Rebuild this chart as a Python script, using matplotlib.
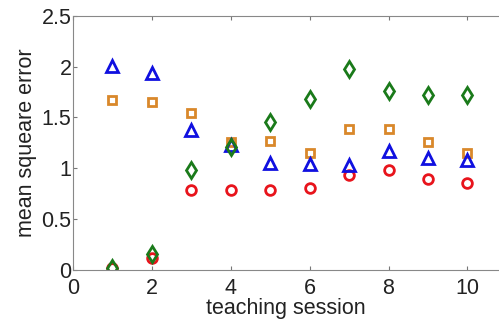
import numpy as np
import matplotlib.pyplot as plt

plt.rcParams['font.family'] = ['Liberation Sans', 'DejaVu Sans']

# data
sessions = [1, 2, 3, 4, 5, 6, 7, 8, 9, 10]
red_circ = [0.02, 0.12, 0.79, 0.79, 0.79, 0.81, 0.93, 0.98, 0.89, 0.86]
green_dia = [0.02, 0.16, 0.98, 1.21, 1.46, 1.68, 1.98, 1.76, 1.72, 1.72]
orange_sq = [1.67, 1.65, 1.54, 1.26, 1.27, 1.15, 1.39, 1.39, 1.26, 1.15]
blue_tri = [2.01, 1.94, 1.38, 1.23, 1.05, 1.04, 1.03, 1.17, 1.10, 1.08]

fig = plt.figure(figsize=(4.99, 3.24), dpi=100)
ax = fig.add_axes([0.146, 0.167, 0.854, 0.784])

mkw = dict(linestyle='none', markerfacecolor='none', markeredgewidth=2)
ax.plot(sessions, red_circ, marker='o', color='#e8141c', markersize=7, **mkw)
ax.plot(sessions, orange_sq, marker='s', color='#d9882a', markersize=6, **mkw)
ax.plot(sessions, blue_tri, marker='^', color='#1010e0', markersize=8, **mkw)
ax.plot(sessions, green_dia, marker='d', color='#1a7a1a', markersize=8, **mkw)

ax.set_xlim(0, 10.8)
ax.set_ylim(0, 2.5)
ax.set_xticks([0, 2, 4, 6, 8, 10])
ax.set_yticks([0, 0.5, 1, 1.5, 2, 2.5])
ax.set_yticklabels(['0', '0.5', '1', '1.5', '2', '2.5'])
ax.tick_params(direction='in', top=True, right=False, labelsize=15.5,
               length=3, color='#777777', labelcolor='#222222', pad=1)
ax.tick_params(axis='x', pad=6)
for s in ['left', 'bottom', 'top']:
    ax.spines[s].set_color('#888888')
ax.spines['right'].set_visible(False)

ax.set_xlabel('teaching session', fontsize=15.5, labelpad=-1, color='#222222')
ax.set_ylabel('mean squeare error', fontsize=15.5, labelpad=3, color='#222222')

fig.savefig('out.png', dpi=100)
